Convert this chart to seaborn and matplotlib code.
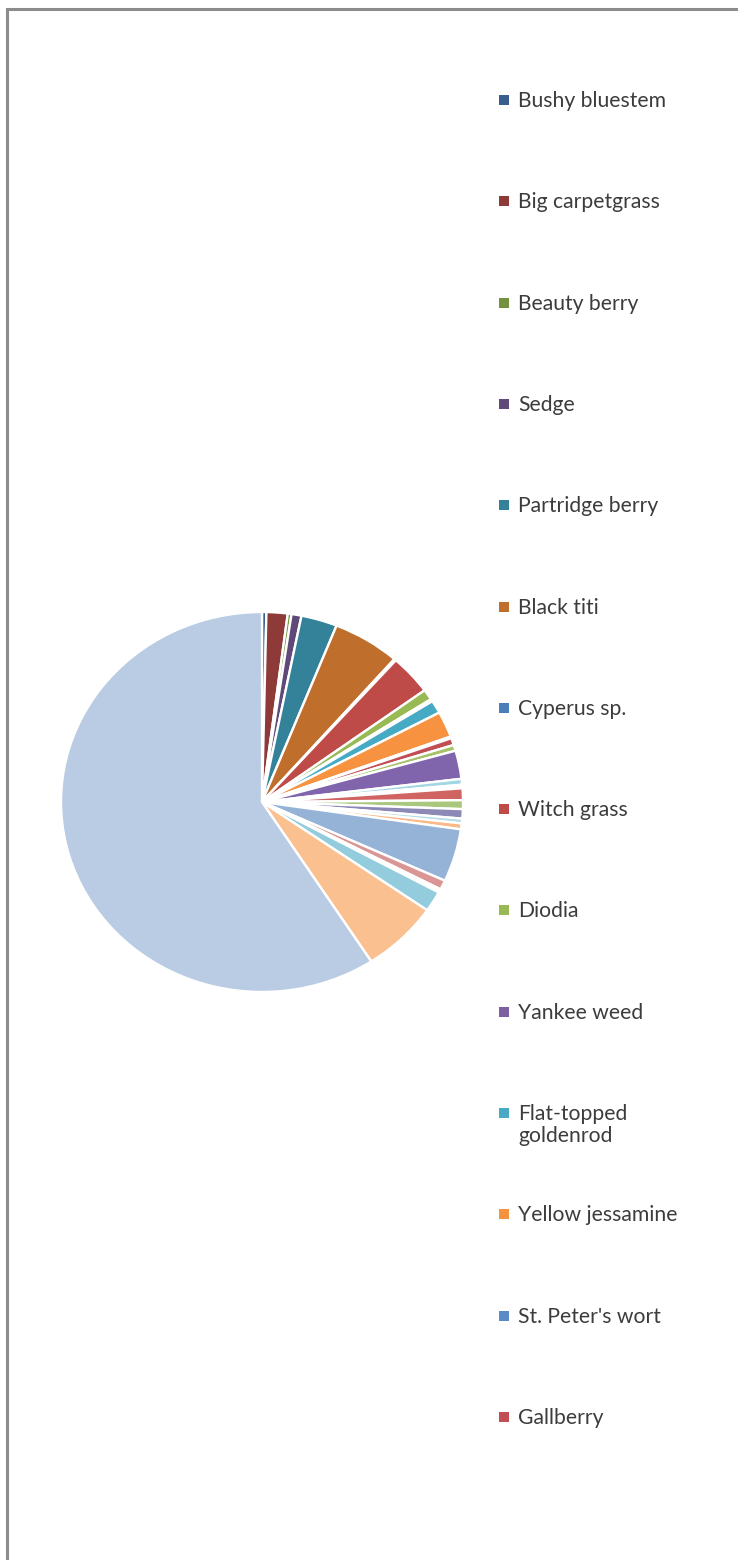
import matplotlib
matplotlib.use("Agg")
import matplotlib.pyplot as plt
from matplotlib.patches import Rectangle
import seaborn as sns

# Species listed in the legend and their share of cover (%)
species = [
    "Bushy bluestem", "Big carpetgrass", "Beauty berry", "Sedge",
    "Partridge berry", "Black titi", "Cyperus sp.", "Witch grass",
    "Diodia", "Yankee weed", "Flat-topped\ngoldenrod", "Yellow jessamine",
    "St. Peter's wort", "Gallberry",
]
species_share = [0.35, 1.7, 0.3, 0.8, 2.9, 5.4, 0.15, 3.4,
                 0.9, 0.2, 1.1, 2.2, 0.15, 0.6]
# Remaining species in the pie (not shown in the legend)
remaining_share = [0.5, 2.4, 0.5, 0.1, 0.2, 1.0, 0.75, 0.8, 0.4, 0.5,
                   4.5, 0.8, 0.15, 0.15, 1.75, 6.2, 59.15]

shares = species_share + remaining_share

# Office-style point colours: six hues, repeated in shade bands
shade_bands = [
    ["#375E8F", "#8E3A38", "#74913E", "#5F4979", "#33829A", "#BF6E2C"],
    ["#4A7EBB", "#BE4B48", "#98B954", "#7D60A0", "#46AAC5", "#F69240"],
    ["#5B8BC6", "#C24E55", "#A6C26A", "#8064AC", "#A3D6E3", "#F8A25E"],
    ["#7FA3D2", "#D06462", "#A9C87E", "#8C89B6", "#B5DCE7", "#FAB987"],
    ["#95B3D7", "#D99694", "#C3D69B", "#B3A2C7", "#93CDDD", "#FAC090"],
    ["#BACCE4", "#E6B9B8", "#D7E4BD", "#CCC1DA", "#B7DEE8", "#FCD5B5"],
]
palette = sns.color_palette([c for band in shade_bands for c in band])
colors = palette[:len(shares)]

sns.set_theme(style="white")
plt.rcParams["font.family"] = ["Lato", "DejaVu Sans"]

W, H, DPI = 738, 1560, 100
fig = plt.figure(figsize=(W / DPI, H / DPI), dpi=DPI)
fig.patch.set_facecolor("white")

# Chart frame (open on the right and bottom)
fig.add_artist(Rectangle((7 / W, -0.05), 1.2, (H - 9) / H + 0.05,
                         transform=fig.transFigure, fill=False,
                         edgecolor="#8c8c8c", linewidth=2.2))

# Pie
cx, cy, rx, ry = 262, 802, 201, 190
ax = fig.add_axes([(cx - rx) / W, (H - cy - ry) / H, 2 * rx / W, 2 * ry / H])
ax.pie(shares, colors=colors, startangle=90, counterclock=False,
       radius=1.0, wedgeprops=dict(edgecolor="white", linewidth=1.7))
ax.set_aspect("auto")
ax.set_xlim(-1, 1)
ax.set_ylim(-1, 1)
ax.axis("off")

# Legend column
lax = fig.add_axes([0, 0, 1, 1])
lax.set_xlim(0, W)
lax.set_ylim(H, 0)
lax.axis("off")
first_y, step, line_gap = 100, 101.3, 22
for i, name in enumerate(species):
    y = first_y + step * i
    lax.add_patch(Rectangle((499, y - 5), 10, 10, facecolor=colors[i],
                            edgecolor="none"))
    for k, line in enumerate(name.split("\n")):
        lax.text(518, y + 7 + k * line_gap, line, fontsize=15.2,
                 color="#3c3c3c", va="baseline", ha="left")

fig.savefig("out.png", dpi=DPI, facecolor="white")
